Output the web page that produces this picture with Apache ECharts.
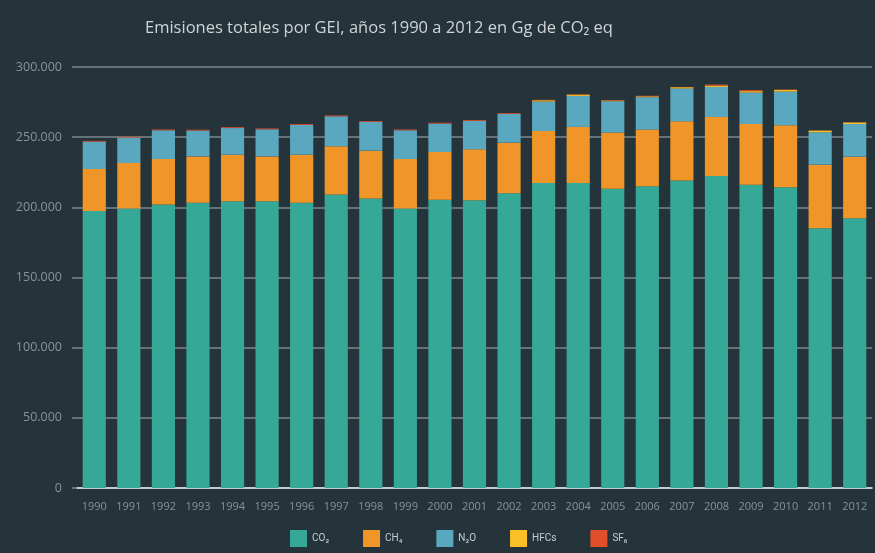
<!DOCTYPE html>
<html>
<head>
<meta charset="utf-8">
<script src="https://cdn.jsdelivr.net/npm/echarts@6/dist/echarts.min.js"></script>
<style>
  html, body { margin: 0; padding: 0; background: #25343b; }
  #chart { width: 875px; height: 553px; }
</style>
</head>
<body>
<div id="chart"></div>
<script>
// años
const years = ['1990', '1991', '1992', '1993', '1994', '1995', '1996', '1997', '1998', '1999', '2000',
  '2001', '2002', '2003', '2004', '2005', '2006', '2007', '2008', '2009', '2010', '2011', '2012']

// Gg de CO2 eq
const co2 = [197300, 199200, 202100, 203300, 204400, 204400, 203300, 209200, 206300, 199200, 205400,
  205100, 210100, 217300, 217300, 213300, 215100, 219200, 222300, 216100, 214400, 185100, 192300]
const ch4 = [30000, 32400, 32300, 33000, 33100, 31900, 34200, 34300, 34100, 35200, 34000,
  36300, 36000, 37100, 40000, 40000, 40300, 42100, 42100, 43300, 44100, 45300, 43800]
const n2o = [19500, 18100, 20500, 18400, 19000, 19300, 21200, 21400, 20400, 20500, 20300,
  20200, 20400, 21000, 22100, 22300, 23100, 23400, 21400, 22400, 24000, 23100, 23300]
const hfcs = [0, 0, 0, 0, 0, 0, 0, 0, 0, 0, 0,
  0, 0, 900, 900, 500, 600, 900, 1000, 1000, 1200, 1200, 1100]
const sf6 = [600, 600, 600, 600, 600, 600, 600, 600, 600, 600, 600,
  600, 600, 300, 300, 400, 400, 200, 700, 700, 200, 100, 100]

const yTicks = { min: 0, max: 300000, interval: 50000 }

function miles(v) {
  return String(v).replace(/\B(?=(\d{3})+(?!\d))/g, '.')
}

const serie = (name, data, color) => ({
  name: name,
  type: 'bar',
  stack: 'total',
  barCategoryGap: '33%',
  itemStyle: { color: color },
  emphasis: { disabled: true },
  data: data
})

const chart = echarts.init(document.getElementById('chart'))

chart.setOption({
  backgroundColor: '#25343b',
  animation: false,
  title: {
    text: 'Emisiones totales por GEI, años 1990 a 2012 en Gg de CO₂ eq',
    left: 140,
    top: 15,
    textStyle: {
      color: '#cfd4d6',
      fontSize: 16.5,
      fontWeight: 'normal',
      fontFamily: 'Open Sans'
    }
  },
  legend: {
    left: 285,
    top: 525,
    itemWidth: 17,
    itemHeight: 17,
    itemGap: 34,
    icon: 'rect',
    textStyle: { color: '#c8cdd0', fontSize: 10, fontFamily: 'Roboto' },
    data: ['CO₂', 'CH₄', 'N₂O', 'HFCs', 'SF₆']
  },
  grid: {
    left: 77,
    right: 3,
    top: 67,
    bottom: 65
  },
  xAxis: {
    type: 'category',
    data: years,
    axisLine: { lineStyle: { color: '#e6e9ea', width: 1.5 } },
    axisTick: { show: false },
    axisLabel: { color: '#87939a', fontSize: 11, margin: 13, fontFamily: 'Open Sans' }
  },
  yAxis: {
    type: 'value',
    min: yTicks.min,
    max: yTicks.max,
    interval: yTicks.interval,
    axisLine: { show: false },
    axisTick: { show: true, length: 5, lineStyle: { color: '#7d878c', width: 1.5 } },
    splitLine: { lineStyle: { color: '#7d878c', width: 1.5 } },
    axisLabel: {
      color: '#87939a',
      fontSize: 12.5,
      margin: 15,
      fontFamily: 'Open Sans',
      formatter: miles
    }
  },
  series: [
    serie('CO₂', co2, '#35a898'),
    serie('CH₄', ch4, '#f09628'),
    serie('N₂O', n2o, '#5aa8c0'),
    serie('HFCs', hfcs, '#fbbf27'),
    serie('SF₆', sf6, '#e04e2a')
  ]
})
</script>
</body>
</html>
